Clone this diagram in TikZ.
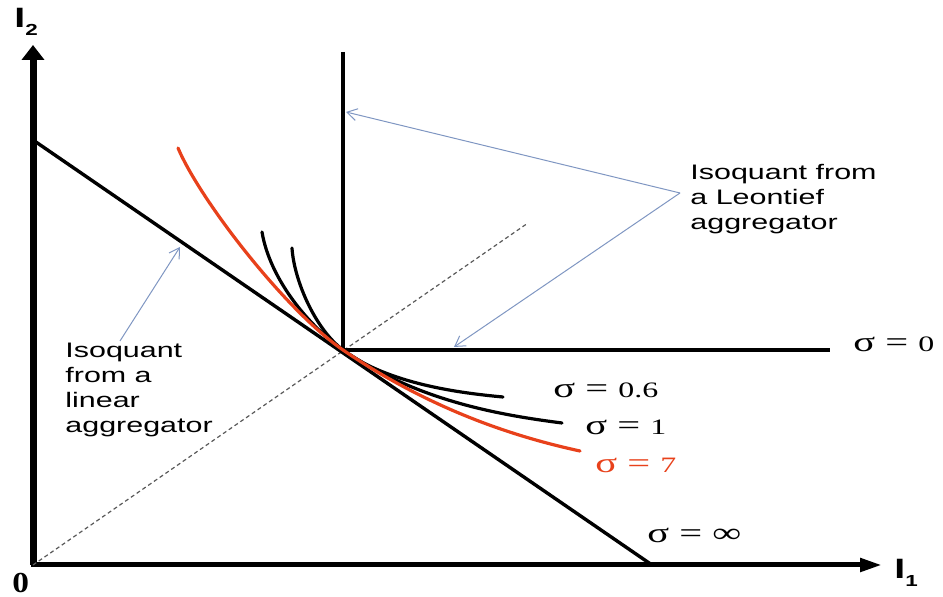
\documentclass[tikz,border=0pt]{standalone}
\usepackage{fontspec}
\setmainfont{Liberation Serif}
\usepackage{xcolor}
\usetikzlibrary{arrows.meta}
\newfontfamily\notefont[FakeStretch=1.45]{Liberation Sans}
\newfontfamily\sigmafont[FakeStretch=1.45]{Liberation Serif}
\newfontfamily\axisfont[FakeStretch=1.4]{Liberation Sans}
\newfontfamily\originfont[FakeStretch=1.15]{Liberation Serif}
\definecolor{cesred}{HTML}{E8411B}
\definecolor{annotblue}{HTML}{7F96C2}
\newcommand{\bigsym}[1]{{\fontsize{14}{14}\selectfont #1}}
\newcommand{\sigeq}[1]{\bigsym{σ = }#1}

\begin{document}
\begin{tikzpicture}[
    x=0.5pt, y=-0.5pt,
    isoquant/.style={line width=1.6pt, line cap=round},
    leontief/.style={line width=2.2pt},
    note/.style={font=\notefont\fontsize{10.5}{12.4}\selectfont, align=left, inner sep=0pt},
    sig/.style={font=\sigmafont\fontsize{11}{13}\selectfont, inner sep=0pt, anchor=base west},
    annot/.style={annotblue, line width=0.5pt, -{Straight Barb[length=5pt, width=6pt]}}
]
\useasboundingbox (0,0) rectangle (943,597);

% Key points
\coordinate (O) at (33,565);
\coordinate (y-top) at (33,45);
\coordinate (x-end) at (882,565);
\coordinate (lin-a) at (33,140);
\coordinate (lin-b) at (652,565);
\coordinate (kink) at (343,350);
\coordinate (leo-top) at (343,52);
\coordinate (leo-end) at (830,350);
\coordinate (ray-end) at (528,223);

% Axes
\draw[line width=3.5pt, -{Triangle[length=7.5pt, width=11pt]}] (O) -- (y-top);
\draw[line width=2.5pt, -{Triangle[length=11pt, width=6.5pt]}] ([xshift=-0.9pt]O) -- (x-end);
\node[font=\axisfont\bfseries\fontsize{14}{14}\selectfont, inner sep=0pt, anchor=base west] (lab-y) at (14,28)
    {I\raisebox{-4pt}{\fontsize{8}{8}\selectfont 2}};
\node[font=\axisfont\bfseries\fontsize{14}{14}\selectfont, inner sep=0pt, anchor=base west] (lab-x) at (894,579)
    {I\raisebox{-4pt}{\fontsize{8}{8}\selectfont 1}};
\node[font=\originfont\bfseries\fontsize{14.5}{14.5}\selectfont, inner sep=0pt, anchor=base west] (lab-o) at (12,593) {0};

% Ray through the kink
\draw[gray!70!black, line width=0.6pt, dash pattern=on 2pt off 1.5pt] (O) -- (ray-end);

% Linear and Leontief isoquants
\draw[line width=1.7pt] (lin-a) -- (lin-b);
\draw[leontief] (leo-top) -- (kink) -- (leo-end);

% CES isoquants
\coordinate (s06-a) at (292,248);
\coordinate (s06-b) at (503,397);
\coordinate (s1-a) at (262,232);
\coordinate (s1-b) at (562,423);
\coordinate (s7-a) at (178,148);
\coordinate (s7-b) at (580,451);
\draw[isoquant] (s06-a) .. controls (294,280) and (315,329) .. (kink)
    .. controls (388,384) and (460,393) .. (s06-b);
\draw[isoquant] (s1-a) .. controls (270,280) and (310,327) .. (kink)
    .. controls (417,401) and (500,415) .. (s1-b);
\draw[isoquant, cesred] (s7-a) .. controls (200,200) and (285,310) .. (kink)
    .. controls (434,412) and (520,438) .. (s7-b);

% Labels
\node[sig] (sig-0) at (853,352) {\sigeq{0}};
\node[sig] (sig-06) at (553,398) {\sigeq{0.6}};
\node[sig] (sig-1) at (585,435) {\sigeq{1}};
\node[sig, cesred] (sig-7) at (595,473) {\sigeq{7}};
\node[sig] (sig-inf) at (647,543) {\sigeq{\bigsym{∞}}};

\node[note, anchor=north west] (leo-note) at (690,164) {Isoquant from\\a Leontief\\aggregator};
\node[note, anchor=north west] (lin-note) at (65,343) {Isoquant\\from a\\linear\\aggregator};

% Pointers
\coordinate (leo-tail) at (680,193);
\coordinate (leo-tip-v) at (346,112);
\coordinate (leo-tip-h) at (454,347);
\coordinate (lin-tail) at (120,341);
\coordinate (lin-tip) at (180,247);
\draw[annot] (leo-tail) -- (leo-tip-v);
\draw[annot] (leo-tail) -- (leo-tip-h);
\draw[annot] (lin-tail) -- (lin-tip);

\end{tikzpicture}
\end{document}
